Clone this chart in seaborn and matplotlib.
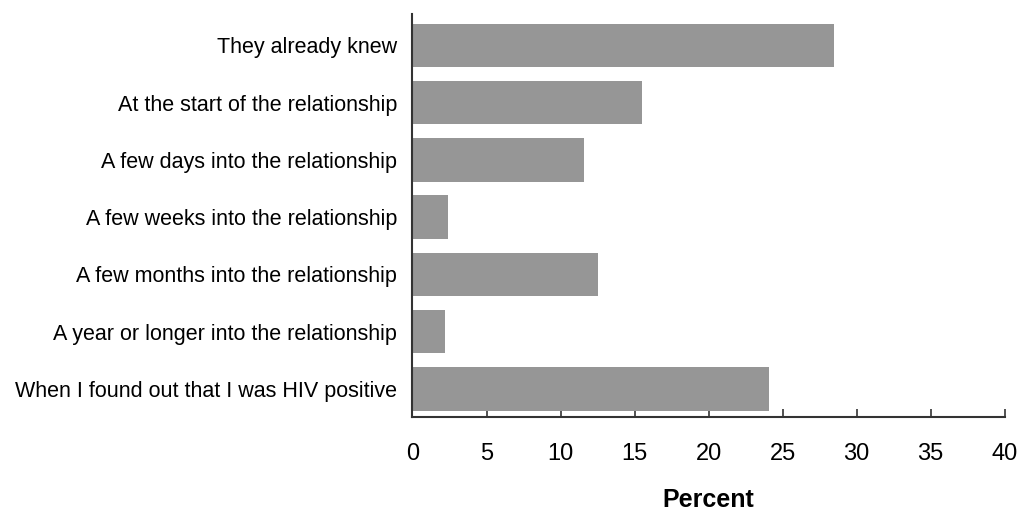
import matplotlib
matplotlib.use("Agg")
import matplotlib.pyplot as plt
import seaborn as sns
import pandas as pd

# data
categories = [
    "They already knew",
    "At the start of the relationship",
    "A few days into the relationship",
    "A few weeks into the relationship",
    "A few months into the relationship",
    "A year or longer into the relationship",
    "When I found out that I was HIV positive",
]
percent = [28.5, 15.5, 11.6, 2.4, 12.5, 2.2, 24.1]
x_ticks = [0, 5, 10, 15, 20, 25, 30, 35, 40]

df = pd.DataFrame({"category": categories, "percent": percent})

sns.set_style("white")
plt.rcParams["font.family"] = ["Liberation Sans", "DejaVu Sans"]
plt.rcParams["text.color"] = "black"

fig = plt.figure(figsize=(10.21, 5.11), dpi=100)
ax = fig.add_axes([0.404, 0.184, 0.58, 0.789])

sns.barplot(data=df, x="percent", y="category", orient="h",
            color="#969696", saturation=1, width=0.76, linewidth=0, ax=ax)

ax.set_xlim(0, 40)
ax.set_ylim(6.49, -0.55)
ax.set_xticks(x_ticks)
ax.set_xticklabels([str(t) for t in x_ticks], fontsize=17)
ax.tick_params(axis="x", bottom=True, direction="in", length=6, width=1.2,
               color="#333333", pad=19, labelcolor="black")
ax.tick_params(axis="y", left=False, length=0, pad=11, labelsize=15.5,
               labelcolor="black")

for side in ("top", "right"):
    ax.spines[side].set_visible(False)
for side in ("left", "bottom"):
    ax.spines[side].set_color("#333333")
    ax.spines[side].set_linewidth(1.5)

ax.set_ylabel("")
ax.set_xlabel("Percent", fontsize=18, fontweight="bold", labelpad=16,
              color="black")

fig.savefig("out.png", dpi=100)
